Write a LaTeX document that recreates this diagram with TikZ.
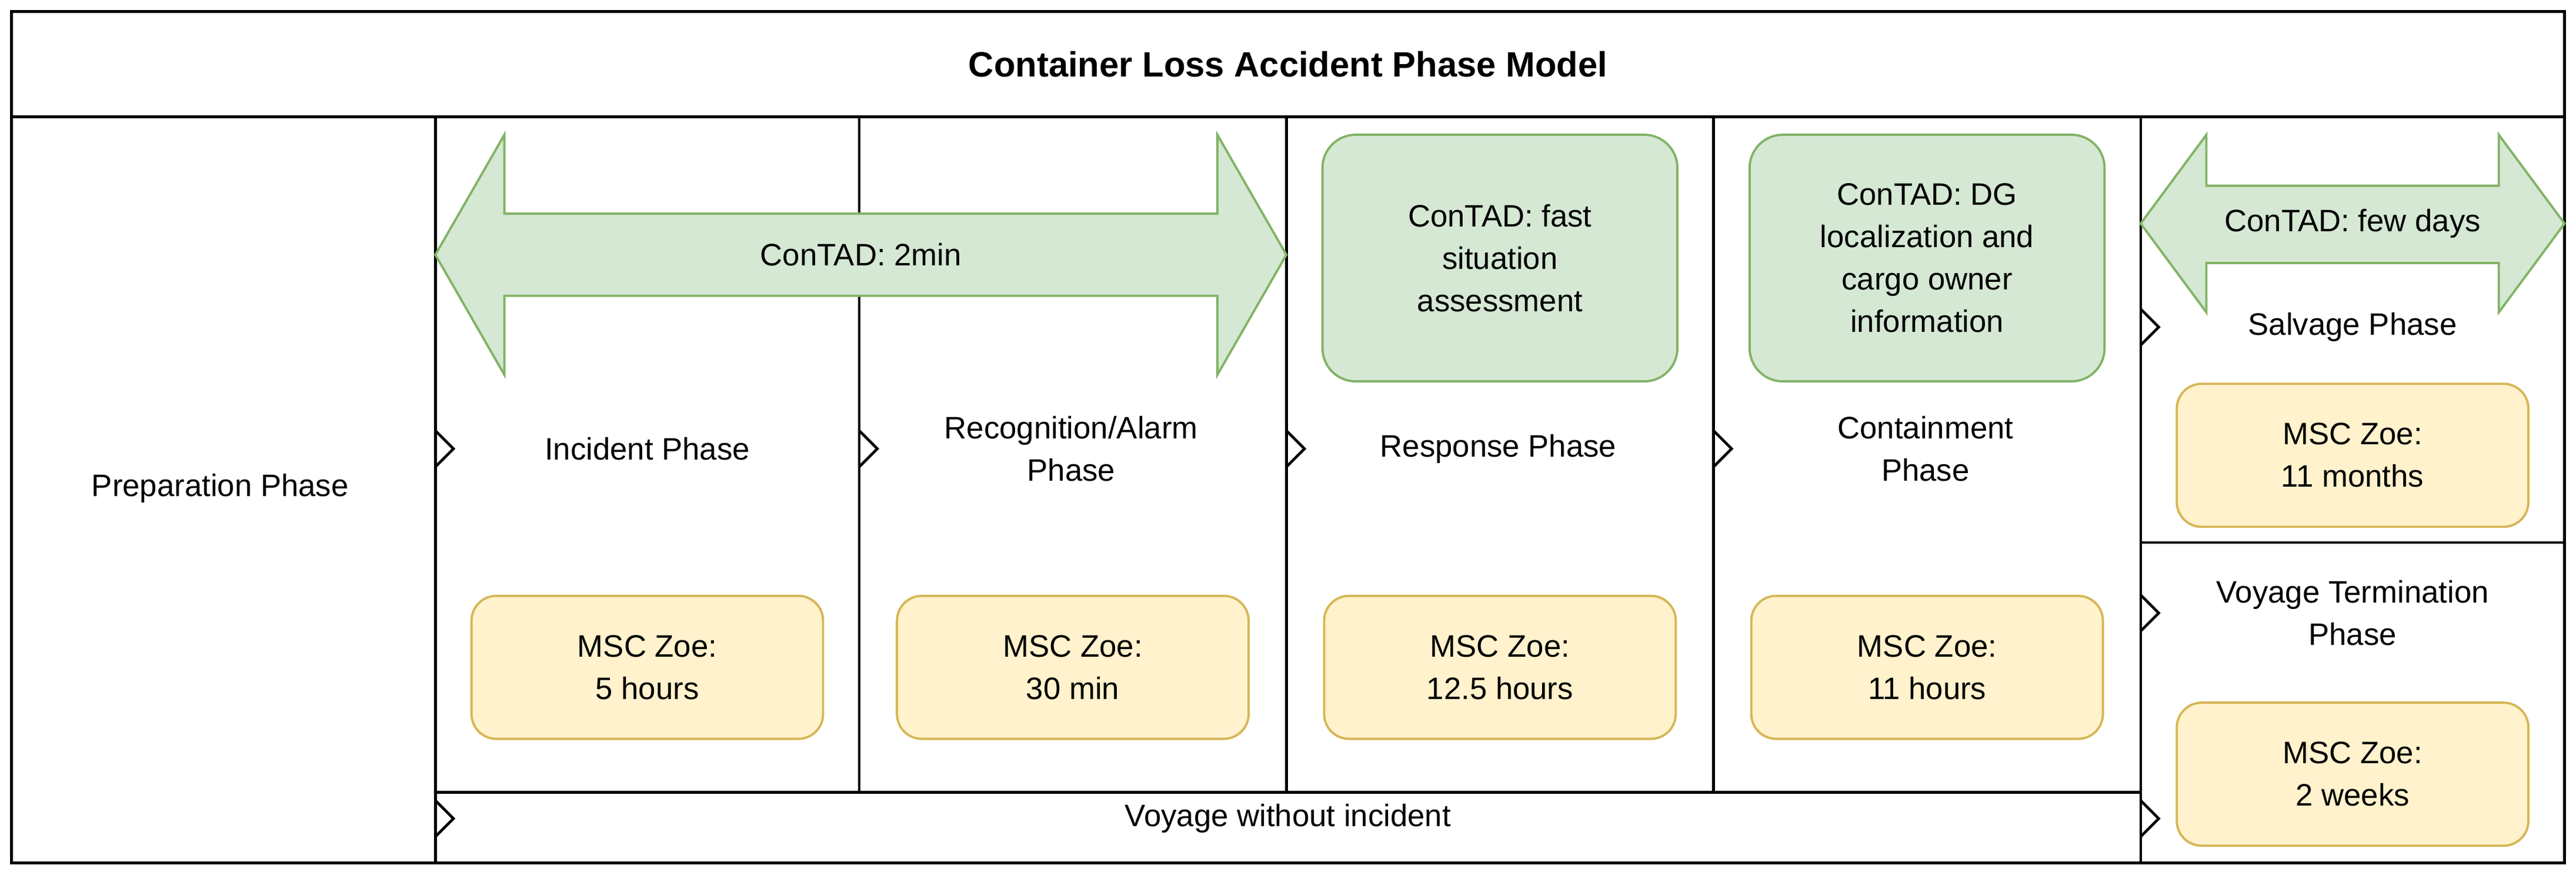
\documentclass[tikz,border=0pt]{standalone}
\usepackage{fontspec}
\setmainfont{Liberation Sans}
\definecolor{gfill}{HTML}{D5E8D4}
\definecolor{gline}{HTML}{82B366}
\definecolor{yfill}{HTML}{FFF2CC}
\definecolor{yline}{HTML}{D6B656}
\begin{document}
\begin{tikzpicture}[x=0.02793cm,y=-0.02793cm,
  cell/.style={draw=black,line width=1.3pt},
  lbl/.style={font=\fontsize{15}{20.5}\selectfont,align=center,inner sep=0pt},
  green/.style={draw=gline,fill=gfill,line width=1.1pt,rounded corners=16pt,inner sep=0pt,lbl},
  yel/.style={draw=yline,fill=yfill,line width=1.1pt,rounded corners=12pt,inner sep=0pt,lbl},
  garrow/.style={draw=gline,fill=gfill,line width=1.1pt},
  chev/.style={draw=black,line width=1.3pt}]
\useasboundingbox (0,0) rectangle (1568,532);
% frame
\draw[cell] (7,7) rectangle (1561,525);
\draw[cell] (7,71) -- (1561,71);
\node[lbl,font=\bfseries\fontsize{17}{20}\selectfont] (title) at (784,39) {Container Loss Accident Phase Model};
% columns
\draw[cell] (265,71) -- (265,525);
\foreach \x in {523,783,1043}{\draw[cell] (\x,71) -- (\x,482);}
\draw[cell] (1303,71) -- (1303,525);
\draw[cell] (265,482) -- (1303,482);
\draw[cell] (1303,330) -- (1561,330);
% big double arrow
\draw[garrow] (265,155) -- (307,82) -- (307,130) -- (741,130) -- (741,82) -- (783,155)
  -- (741,228) -- (741,180) -- (307,180) -- (307,228) -- cycle;
\node[lbl] (a1) at (524,155) {ConTAD: 2min};
% small double arrow
\draw[garrow] (1303,136) -- (1343,82) -- (1343,113) -- (1521,113) -- (1521,82) -- (1561,136)
  -- (1521,190) -- (1521,160) -- (1343,160) -- (1343,190) -- cycle;
\node[lbl] (a2) at (1432,136) {ConTAD: few days};
% green boxes
\node[green,minimum width=216*0.7946pt,minimum height=150*0.7946pt] (g1) at (913,157) {ConTAD: fast\\situation\\assessment};
\node[green,minimum width=216*0.7946pt,minimum height=150*0.7946pt] (g2) at (1173,157) {ConTAD: DG\\localization and\\cargo owner\\information};
% yellow boxes
\foreach \n/\x/\t in {y1/394/5 hours,y2/653/30 min,y3/913/12.5 hours,y4/1173/11 hours}{
  \node[yel,minimum width=214*0.7946pt,minimum height=87*0.7946pt] (\n) at (\x,406) {MSC Zoe:\\\t};}
\node[yel,minimum width=214*0.7946pt,minimum height=87*0.7946pt] (y5) at (1432,277) {MSC Zoe:\\11 months};
\node[yel,minimum width=214*0.7946pt,minimum height=87*0.7946pt] (y6) at (1432,471) {MSC Zoe:\\2 weeks};
% phase labels
\node[lbl] (prep) at (134,297) {Preparation Phase};
\node[lbl] (inc) at (394,273) {Incident Phase};
\node[lbl] (rec) at (652,273) {Recognition/Alarm\\Phase};
\node[lbl] (resp) at (912,273) {Response Phase};
\node[lbl] (cont) at (1172,273) {Containment\\Phase};
\node[lbl] (salv) at (1432,199) {Salvage Phase};
\node[lbl] (vt) at (1432,373) {Voyage Termination\\Phase};
\node[lbl] (vwi) at (784,498) {Voyage without incident};
% markers
\foreach \x/\y in {265/273,523/273,783/273,1043/273,1303/199,1303/373,265/498,1303/498}{
  \draw[chev] (\x,\y-11) -- (\x+11,\y) -- (\x,\y+11);}
\end{tikzpicture}
\end{document}
